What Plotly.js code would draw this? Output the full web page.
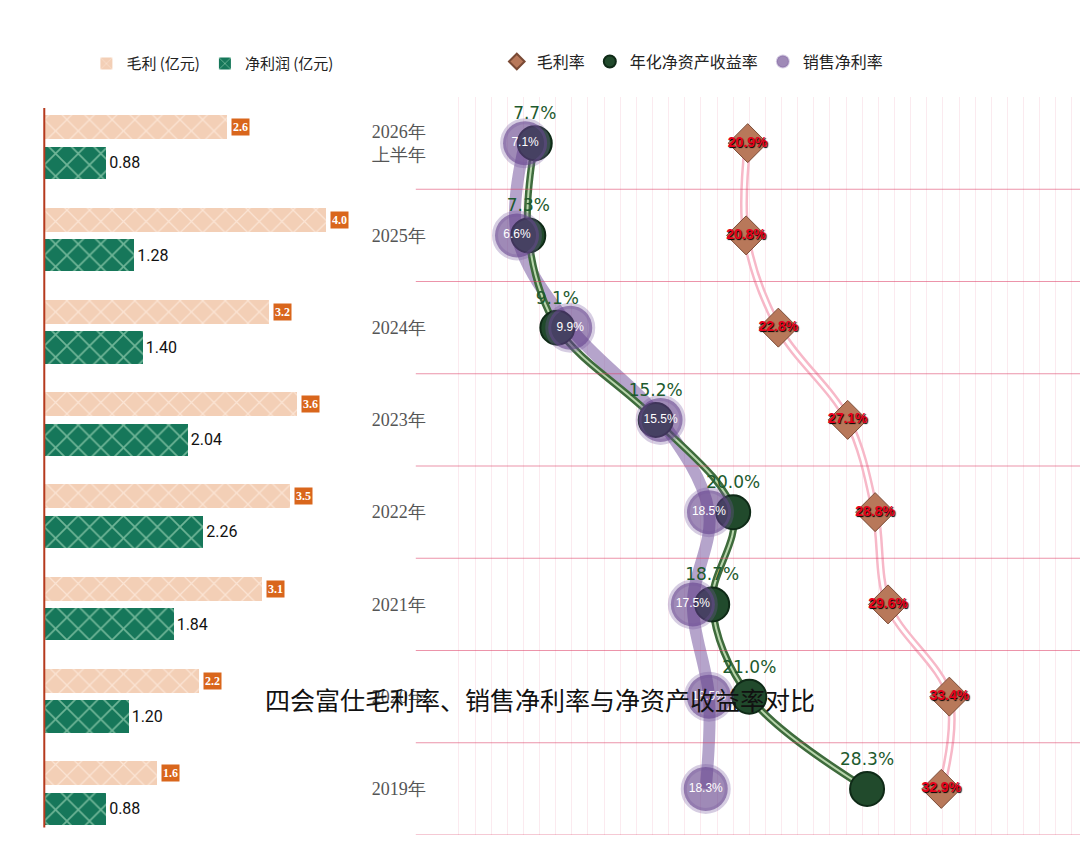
<!DOCTYPE html>
<html><head><meta charset="utf-8">
<script src="https://cdn.plot.ly/plotly-3.0.1.min.js"></script>
<style>body{margin:0;background:#fff}</style>
</head><body>
<div id="chart" style="width:1080px;height:843px"></div>
<script>
const years = ['2019年', '2020年', '2021年', '2022年', '2023年', '2024年', '2025年', '2026年<br>上半年'];
const grossProfit = [1.6, 2.2, 3.1, 3.5, 3.6, 3.2, 4.0, 2.6];
const netProfit = [0.88, 1.20, 1.84, 2.26, 2.04, 1.40, 1.28, 0.88];
const grossMargin = [32.9, 33.4, 29.6, 28.8, 27.1, 22.8, 20.8, 20.9];
const roe = [28.3, 21.0, 18.7, 20.0, 15.2, 9.1, 7.3, 7.7];
const netMargin = [18.3, 18.5, 17.5, 18.5, 15.5, 9.9, 6.6, 7.1];

const pct = a => a.map(v => v.toFixed(1) + '%');
const cjk = '"Noto Sans CJK SC", sans-serif';

const traces = [
    // left: bars
    {
        type: 'bar', orientation: 'h', name: '毛利 (亿元)', x: grossProfit, y: years,
        xaxis: 'x', yaxis: 'y', offset: 0.04, width: 0.26,
        marker: { color: '#f3cfb6', pattern: { shape: 'x', bgcolor: '#f3cfb6', fgcolor: '#fbe4d4', size: 16, solidity: 0.15 } },
        legend: 'legend',
    },
    {
        type: 'bar', orientation: 'h', name: '净利润 (亿元)', x: netProfit, y: years,
        xaxis: 'x', yaxis: 'y', offset: -0.39, width: 0.35,
        marker: { color: '#16775a', pattern: { shape: 'x', bgcolor: '#16775a', fgcolor: '#6fb597', size: 16, solidity: 0.2 } },
        text: netProfit.map(v => v.toFixed(2)), textposition: 'outside',
        textfont: { size: 16, color: '#111', family: 'Roboto' }, cliponaxis: false,
        legend: 'legend',
    },
    // right: gross margin line (double pink)
    {
        type: 'scatter', mode: 'lines', x: grossMargin, y: years, xaxis: 'x2', yaxis: 'y2',
        line: { color: '#f7b8c8', width: 8, shape: 'spline' }, showlegend: false, hoverinfo: 'skip',
    },
    {
        type: 'scatter', mode: 'lines', x: grossMargin, y: years, xaxis: 'x2', yaxis: 'y2',
        line: { color: '#ffffff', width: 3, shape: 'spline' }, showlegend: false, hoverinfo: 'skip',
    },
    // net margin thick purple
    {
        type: 'scatter', mode: 'lines', x: netMargin, y: years, xaxis: 'x2', yaxis: 'y2',
        line: { color: 'rgba(120,90,160,0.55)', width: 12, shape: 'spline' }, showlegend: false, hoverinfo: 'skip',
    },
    // roe double green line
    {
        type: 'scatter', mode: 'lines', x: roe, y: years, xaxis: 'x2', yaxis: 'y2',
        line: { color: '#3e6b3c', width: 7, shape: 'spline' }, showlegend: false, hoverinfo: 'skip',
    },
    {
        type: 'scatter', mode: 'lines', x: roe, y: years, xaxis: 'x2', yaxis: 'y2',
        line: { color: '#b9d6ad', width: 2, shape: 'spline' }, showlegend: false, hoverinfo: 'skip',
    },
    // markers
    {
        type: 'scatter', mode: 'markers+text', name: '毛利率', x: grossMargin, y: years, xaxis: 'x2', yaxis: 'y2',
        marker: { symbol: 'diamond', size: 30, color: '#b8785a', line: { color: '#7a4a35', width: 1 } },
        text: pct(grossMargin), textposition: 'middle center',
        textfont: { size: 14, color: '#e8001c', family: 'Liberation Sans', weight: 'bold', shadow: '1px 1px 1px #000' },
        legend: 'legend2',
    },
    {
        type: 'scatter', mode: 'markers', name: '年化净资产收益率', x: roe, y: years, xaxis: 'x2', yaxis: 'y2',
        marker: { size: 34, color: '#214a2c', line: { color: '#0f2a17', width: 2 } },
        legend: 'legend2',
    },
    {
        type: 'scatter', mode: 'markers+text', name: '销售净利率', x: netMargin, y: years, xaxis: 'x2', yaxis: 'y2',
        marker: { size: 44, color: 'rgba(95,60,135,0.6)', line: { color: 'rgba(120,90,160,0.3)', width: 6 } },
        text: pct(netMargin), textposition: 'middle center',
        textfont: { size: 12, color: '#fff', family: 'Liberation Sans' },
        legend: 'legend2',
    },
    // roe labels on top of everything, pushed above by an invisible marker
    {
        type: 'scatter', mode: 'markers+text', x: roe, y: years, xaxis: 'x2', yaxis: 'y2',
        marker: { size: 30, opacity: 0 }, text: pct(roe), textposition: 'top center', showlegend: false,
        textfont: { size: 17, color: '#1d5a2e', family: 'DejaVu Sans' },
    },
];

// gross profit labels as orange tags
const annotations = years.map((y, i) => ({
    xref: 'x', yref: 'y', x: grossProfit[i], y: i + 0.17, xanchor: 'left', yanchor: 'middle',
    xshift: 4, text: '<b>' + grossProfit[i].toFixed(1) + '</b>', showarrow: false,
    font: { size: 12, color: '#fff', family: 'Liberation Sans Narrow' },
    bgcolor: '#d9661c', borderpad: 1,
}));
annotations.push({
    xref: 'paper', yref: 'container', x: 0.5, y: 0.97, yanchor: 'middle',
    text: '四会富仕毛利率、销售净利率与净资产收益率对比', showarrow: false,
    font: { size: 25, color: '#111', family: cjk },
});

// horizontal separators on right panel
const shapes = years.map((y, i) => ({
    type: 'line', xref: 'paper', yref: 'y2', x0: 0.385, x1: 1, y0: i - 0.5, y1: i - 0.5,
    line: { color: 'rgba(220,60,100,0.55)', width: 1 },
}));
shapes.push({
    type: 'line', xref: 'paper', yref: 'paper', x0: 0.041, x1: 0.041, y0: 0.01, y1: 0.985,
    line: { color: '#b53a1e', width: 2 },
});

const layout = {
    width: 1080, height: 843,
    margin: { t: 97, b: 8, l: 0, r: 0 },
    paper_bgcolor: '#fff', plot_bgcolor: 'rgba(0,0,0,0)',
    font: { family: cjk },
    showlegend: true,
    xaxis: { domain: [0.041, 0.36], range: [0, 4.9], visible: false },
    yaxis: { domain: [0, 1], range: [-0.5, 7.5], visible: false, type: 'category' },
    xaxis2: {
        domain: [0.41, 1], range: [2, 41.5], showticklabels: false, zeroline: false,
        showgrid: true, tick0: 19, dtick: 1, gridcolor: 'rgba(240,170,190,0.25)', gridwidth: 1,
    },
    yaxis2: {
        domain: [0, 1], range: [-0.5, 7.5], type: 'category', anchor: 'x2', showgrid: false,
        ticks: '', ticklabelstandoff: 16,
        tickfont: { size: 18, color: '#555', family: '"Liberation Sans Narrow"' },
    },
    bargap: 0,
    legend: {
        orientation: 'h', x: 0.08, y: 1.045, xanchor: 'left', yanchor: 'middle',
        font: { size: 15, family: cjk, color: '#222' }, itemwidth: 30, traceorder: 'normal',
    },
    legend2: {
        orientation: 'h', x: 0.46, y: 1.048, xanchor: 'left', yanchor: 'middle',
        font: { size: 16, family: cjk, color: '#222' }, itemwidth: 30, itemsizing: 'constant',
    },
    annotations: annotations,
    shapes: shapes,
};

Plotly.newPlot('chart', traces, layout, { displayModeBar: false, staticPlot: true });
</script>
</body></html>
